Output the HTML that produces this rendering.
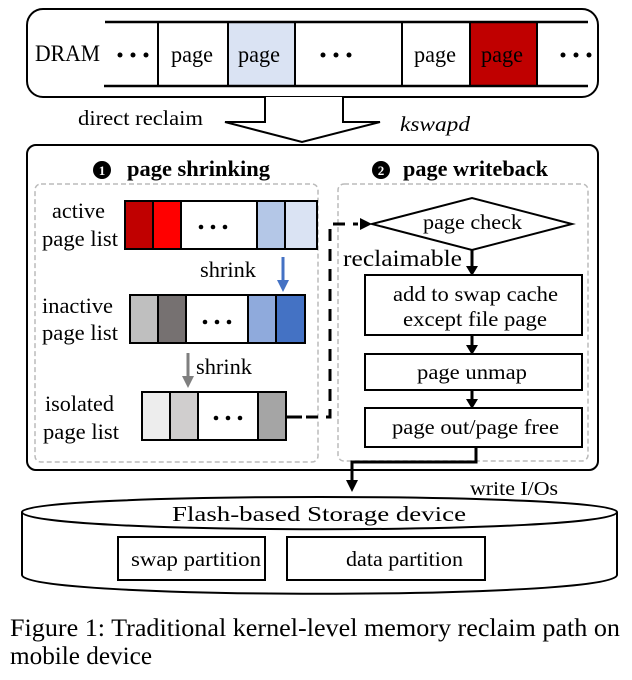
<!DOCTYPE html>
<html><head><meta charset="utf-8"><style>
body{margin:0;background:#fff}
svg{display:block;font-family:"Liberation Serif",serif}
text{lengthAdjust:spacingAndGlyphs}
</style></head><body>
<svg width="632" height="680" viewBox="0 0 632 680" xmlns="http://www.w3.org/2000/svg">
<!-- DRAM -->
<rect x="27" y="9" width="571" height="88" rx="16" fill="#fff" stroke="#000" stroke-width="2"/>
<rect x="228" y="22" width="67" height="64" fill="#dae3f3"/>
<rect x="470" y="22" width="67" height="64" fill="#c00000"/>
<line x1="105" y1="22" x2="588" y2="22" stroke="#000" stroke-width="2.5"/>
<line x1="104" y1="86" x2="588" y2="86" stroke="#000" stroke-width="2.5"/>
<g stroke="#000" stroke-width="2">
<line x1="131" y1="22" x2="131" y2="86" stroke="none"/>
<line x1="158" y1="22" x2="158" y2="86"/><line x1="228" y1="22" x2="228" y2="86"/><line x1="295" y1="22" x2="295" y2="86"/><line x1="402" y1="22" x2="402" y2="86"/><line x1="470" y1="22" x2="470" y2="86"/><line x1="537" y1="22" x2="537" y2="86"/>
</g>
<g font-size="23">
<text x="35" y="61" textLength="65" lengthAdjust="spacingAndGlyphs">DRAM</text>
<text x="171" y="62" textLength="42" lengthAdjust="spacingAndGlyphs">page</text>
<text x="238" y="62" textLength="42" lengthAdjust="spacingAndGlyphs">page</text>
<text x="414" y="62" textLength="42" lengthAdjust="spacingAndGlyphs">page</text>
<text x="481" y="62" textLength="42" lengthAdjust="spacingAndGlyphs">page</text>
</g>
<g fill="#000">
<circle cx="120" cy="55" r="2.5"/><circle cx="133" cy="55" r="2.5"/><circle cx="146" cy="55" r="2.5"/>
<circle cx="323" cy="55" r="2.5"/><circle cx="336" cy="55" r="2.5"/><circle cx="349" cy="55" r="2.5"/>
<circle cx="563" cy="55" r="2.5"/><circle cx="576" cy="55" r="2.5"/><circle cx="589" cy="55" r="2.5"/>
</g>
<!-- big arrow -->
<path d="M265,97 L265,122 L225,122 L302,142 L380,122 L343,122 L343,97" fill="#fff" stroke="#000" stroke-width="2"/>
<text x="78" y="125" font-size="21" textLength="125" lengthAdjust="spacingAndGlyphs">direct reclaim</text>
<text x="400" y="131" font-size="21" font-style="italic" textLength="70" lengthAdjust="spacingAndGlyphs">kswapd</text>
<!-- main box -->
<rect x="27" y="145" width="571" height="325" rx="9" fill="#fff" stroke="#000" stroke-width="2"/>
<circle cx="102" cy="170" r="9" fill="#000"/><text x="102" y="175" font-size="13" fill="#fff" font-weight="bold" text-anchor="middle">1</text>
<text x="127" y="176" font-size="22" font-weight="bold" textLength="143" lengthAdjust="spacingAndGlyphs">page shrinking</text>
<circle cx="381" cy="170" r="9" fill="#000"/><text x="381" y="175" font-size="13" fill="#fff" font-weight="bold" text-anchor="middle">2</text>
<text x="403" y="176" font-size="22" font-weight="bold" textLength="145" lengthAdjust="spacingAndGlyphs">page writeback</text>
<rect x="35" y="184" width="283" height="278" rx="6" fill="none" stroke="#bbb" stroke-width="1.5" stroke-dasharray="5,3"/>
<rect x="338" y="184" width="250" height="277" rx="6" fill="none" stroke="#bbb" stroke-width="1.5" stroke-dasharray="5,3"/>
<!-- lists -->
<g font-size="22">
<text x="52" y="218" textLength="53" lengthAdjust="spacingAndGlyphs">active</text><text x="42" y="246" textLength="76" lengthAdjust="spacingAndGlyphs">page list</text>
<text x="42" y="313" textLength="71" lengthAdjust="spacingAndGlyphs">inactive</text><text x="42" y="340" textLength="76" lengthAdjust="spacingAndGlyphs">page list</text>
<text x="45" y="411" textLength="69" lengthAdjust="spacingAndGlyphs">isolated</text><text x="43" y="439" textLength="76" lengthAdjust="spacingAndGlyphs">page list</text>
<text x="200" y="277" textLength="56" lengthAdjust="spacingAndGlyphs">shrink</text>
<text x="196" y="374" textLength="56" lengthAdjust="spacingAndGlyphs">shrink</text>
</g>
<g stroke="#000" stroke-width="2">
<rect x="125" y="201" width="28" height="48" fill="#c00000"/><rect x="153" y="201" width="28" height="48" fill="#ff0000"/><rect x="181" y="201" width="76" height="48" fill="#fff"/><rect x="257" y="201" width="28" height="48" fill="#b4c7e7"/><rect x="285" y="201" width="32" height="48" fill="#dae3f3"/>
<rect x="130" y="295" width="28" height="48" fill="#bfbfbf"/><rect x="158" y="295" width="28" height="48" fill="#767171"/><rect x="186" y="295" width="62" height="48" fill="#fff"/><rect x="248" y="295" width="28" height="48" fill="#8faadc"/><rect x="276" y="295" width="29" height="48" fill="#4472c4"/>
<rect x="142" y="392" width="28" height="48" fill="#ededed"/><rect x="170" y="392" width="28" height="48" fill="#d0cece"/><rect x="198" y="392" width="60" height="48" fill="#fff"/><rect x="258" y="392" width="28" height="48" fill="#a5a5a5"/>
</g>
<g fill="#000">
<circle cx="201" cy="227" r="2.3"/><circle cx="213" cy="227" r="2.3"/><circle cx="225" cy="227" r="2.3"/>
<circle cx="205" cy="322" r="2.3"/><circle cx="217" cy="322" r="2.3"/><circle cx="229" cy="322" r="2.3"/>
<circle cx="216" cy="418" r="2.3"/><circle cx="228" cy="418" r="2.3"/><circle cx="240" cy="418" r="2.3"/>
</g>
<line x1="283" y1="257" x2="283" y2="282" stroke="#4472c4" stroke-width="3"/><path d="M277,280 L289,280 L283,292 z" fill="#4472c4"/>
<line x1="188" y1="353" x2="188" y2="378" stroke="#7f7f7f" stroke-width="3"/><path d="M182,376 L194,376 L188,388 z" fill="#7f7f7f"/>
<!-- connector -->
<line x1="286" y1="417" x2="302" y2="417" stroke="#000" stroke-width="3"/>
<path d="M306,417 L330,417 L330,224 L358,224" fill="none" stroke="#000" stroke-width="3" stroke-dasharray="12,8"/>
<path d="M360,218 L372,224 L360,230 z" fill="#000"/>
<!-- flow -->
<path d="M372,224 L472,198 L572,224 L472,250 z" fill="#fff" stroke="#000" stroke-width="2"/>
<text x="423" y="229" font-size="21" textLength="99" lengthAdjust="spacingAndGlyphs">page check</text>
<text x="343" y="266" font-size="23" textLength="119" lengthAdjust="spacingAndGlyphs">reclaimable</text>
<g stroke="#000" stroke-width="3"><line x1="472" y1="250" x2="472" y2="268"/><line x1="472" y1="335" x2="472" y2="347"/><line x1="472" y1="390" x2="472" y2="401"/></g>
<path d="M466,266 L478,266 L472,276 z M466,345 L478,345 L472,355 z M466,399 L478,399 L472,409 z" fill="#000"/>
<g fill="#fff" stroke="#000" stroke-width="2">
<rect x="365" y="275" width="217" height="60"/><rect x="365" y="354" width="217" height="36"/><rect x="365" y="408" width="217" height="39"/>
</g>
<g font-size="21">
<text x="393" y="301" textLength="165" lengthAdjust="spacingAndGlyphs">add to swap cache</text><text x="403" y="326" textLength="144" lengthAdjust="spacingAndGlyphs">except file page</text>
<text x="417" y="379" textLength="110" lengthAdjust="spacingAndGlyphs">page unmap</text><text x="392" y="434" textLength="167" lengthAdjust="spacingAndGlyphs">page out/page free</text>
</g>
<path d="M476,447 L476,462 L352,462 L352,482" fill="none" stroke="#000" stroke-width="3"/>
<path d="M346,480 L358,480 L352,492 z" fill="#000"/>
<text x="470" y="495" font-size="20" textLength="88" lengthAdjust="spacingAndGlyphs">write I/Os</text>
<!-- cylinder -->
<path d="M22,512 C22,492 617,492 617,512 L617,575 C617,600 22,600 22,575 Z" fill="#fff" stroke="#000" stroke-width="2"/>
<path d="M22,512 C22,535 617,535 617,512" fill="none" stroke="#000" stroke-width="2"/>
<text x="172" y="521" font-size="21" textLength="294" lengthAdjust="spacingAndGlyphs">Flash-based Storage device</text>
<rect x="118" y="537" width="147" height="43" fill="#fff" stroke="#000" stroke-width="2"/>
<rect x="287" y="537" width="198" height="43" fill="#fff" stroke="#000" stroke-width="2"/>
<text x="131" y="566" font-size="21" textLength="130" lengthAdjust="spacingAndGlyphs">swap partition</text>
<text x="346" y="566" font-size="21" textLength="117" lengthAdjust="spacingAndGlyphs">data partition</text>
<text x="10" y="636" font-size="25" textLength="610" lengthAdjust="spacingAndGlyphs">Figure 1: Traditional kernel-level memory reclaim path on</text>
<text x="10" y="664" font-size="25" textLength="142" lengthAdjust="spacingAndGlyphs">mobile device</text>
</svg>
</body></html>
